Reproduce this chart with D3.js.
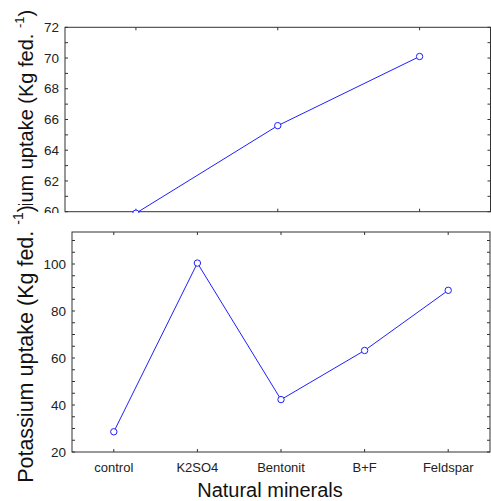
<!DOCTYPE html>
<html>
<head>
<meta charset="utf-8">
<script src="https://cdn.jsdelivr.net/npm/d3@7"></script>
<style>
  html, body { margin: 0; padding: 0; background: #fff; }
  svg { display: block; font-family: "Liberation Sans", Arial, sans-serif; }
</style>
</head>
<body>
<svg id="chart" width="491" height="501"></svg>
<script>
// ---- data ----
// top (partially hidden) panel
const topCategories = ["cat1", "cat2", "cat3"];
const topValues = [59.9, 65.6, 70.1];
const topYTicks = [60, 62, 64, 66, 68, 70, 72];

// bottom panel
const categories = ["control", "K2SO4", "Bentonit", "B+F", "Feldspar"];
const values = [28.6, 100.4, 42.3, 63.2, 88.8];
const yTicks = [20, 40, 60, 80, 100];

const yTitle = "Potassium uptake (Kg fed. ";
const ySup = "-1";
const xTitle = "Natural minerals";

const svg = d3.select("#chart");
const lineColor = "#1f1fff";
const axisColor = "#333";

function panel(g, o) {
  const { x, y, cats, vals, ticks, minorStep, left, right, top, bottom } = o;
  g.append("rect").attr("x", left).attr("y", top)
    .attr("width", right - left).attr("height", bottom - top)
    .attr("fill", "none").attr("stroke", axisColor).attr("stroke-width", 1);
  const [d0, d1] = y.domain();
  const minors = d3.range(Math.ceil(d0 / minorStep) * minorStep, d1 + 1e-9, minorStep);
  g.append("g").selectAll("line").data(minors).join("line")
    .attr("x1", left).attr("x2", left + 3)
    .attr("y1", d => y(d)).attr("y2", d => y(d))
    .attr("stroke", axisColor);
  g.append("g").selectAll("line").data(minors).join("line")
    .attr("x1", right).attr("x2", right - 3)
    .attr("y1", d => y(d)).attr("y2", d => y(d))
    .attr("stroke", axisColor);
  g.append("g").selectAll("line").data(cats).join("line")
    .attr("x1", d => x(d)).attr("x2", d => x(d))
    .attr("y1", top).attr("y2", top + 3).attr("stroke", axisColor);
  g.append("g").selectAll("line").data(cats).join("line")
    .attr("x1", d => x(d)).attr("x2", d => x(d))
    .attr("y1", bottom).attr("y2", bottom - 3).attr("stroke", axisColor);
  g.append("g").selectAll("text").data(ticks).join("text")
    .attr("x", left - 6).attr("y", d => y(d)).attr("dy", "0.35em")
    .attr("text-anchor", "end").attr("font-size", 13.5).attr("fill", "#222")
    .text(d => d);
  const pts = cats.map((c, i) => [x(c), y(vals[i])]);
  g.append("path").attr("d", d3.line()(pts))
    .attr("fill", "none").attr("stroke", lineColor).attr("stroke-width", 1);
  g.append("g").selectAll("circle").data(pts).join("circle")
    .attr("cx", d => d[0]).attr("cy", d => d[1]).attr("r", 3.2)
    .attr("fill", "#fff").attr("stroke", lineColor).attr("stroke-width", 1);
}

function yTitleText(g, xBase, yCenter, size) {
  const t = g.append("text")
    .attr("transform", `translate(${xBase},${yCenter}) rotate(-90)`)
    .attr("text-anchor", "middle").attr("font-size", size).attr("fill", "#111");
  t.append("tspan").text(yTitle);
  t.append("tspan").attr("font-size", size * 0.65).attr("dy", -size * 0.45).text(ySup);
  t.append("tspan").attr("dy", size * 0.45).text(")");
  return t;
}

// ---- top panel ----
const gTop = svg.append("g");
const topL = 65, topR = 490.5, topT = 27.3, topB = 211.7;
const xTop = d3.scalePoint().domain(topCategories).range([topL, topR]).padding(0.5);
const yTopS = d3.scaleLinear().domain([60, 72]).range([topB, topT]);
panel(gTop, { x: xTop, y: yTopS, cats: topCategories, vals: topValues, ticks: topYTicks,
  minorStep: 1, left: topL, right: topR, top: topT, bottom: topB });
yTitleText(gTop, 33, 139, 20);

// ---- cover (bottom image pasted over top) ----
svg.append("rect").attr("x", 0).attr("y", 213).attr("width", 491).attr("height", 288).attr("fill", "#fff");
svg.append("rect").attr("x", 0).attr("y", 205).attr("width", 40).attr("height", 12).attr("fill", "#fff");

// ---- bottom panel ----
const gBot = svg.append("g");
const L = 72, R = 490, T = 232, B = 452;
const pxPer20 = 47;
const yMax = 20 + (B - T) / pxPer20 * 20;
const x = d3.scalePoint().domain(categories).range([L, R]).padding(0.5);
const y = d3.scaleLinear().domain([20, yMax]).range([B, T]);
panel(gBot, { x, y, cats: categories, vals: values, ticks: yTicks,
  minorStep: 5, left: L, right: R, top: T, bottom: B });
gBot.append("g").selectAll("text").data(categories).join("text")
  .attr("x", d => x(d)).attr("y", 472).attr("text-anchor", "middle")
  .attr("font-size", 13).attr("fill", "#222").text(d => d);
gBot.append("text").attr("x", 270).attr("y", 497).attr("text-anchor", "middle")
  .attr("font-size", 20).attr("fill", "#111").text(xTitle);
yTitleText(gBot, 33, 344, 21.5);
</script>
</body>
</html>
